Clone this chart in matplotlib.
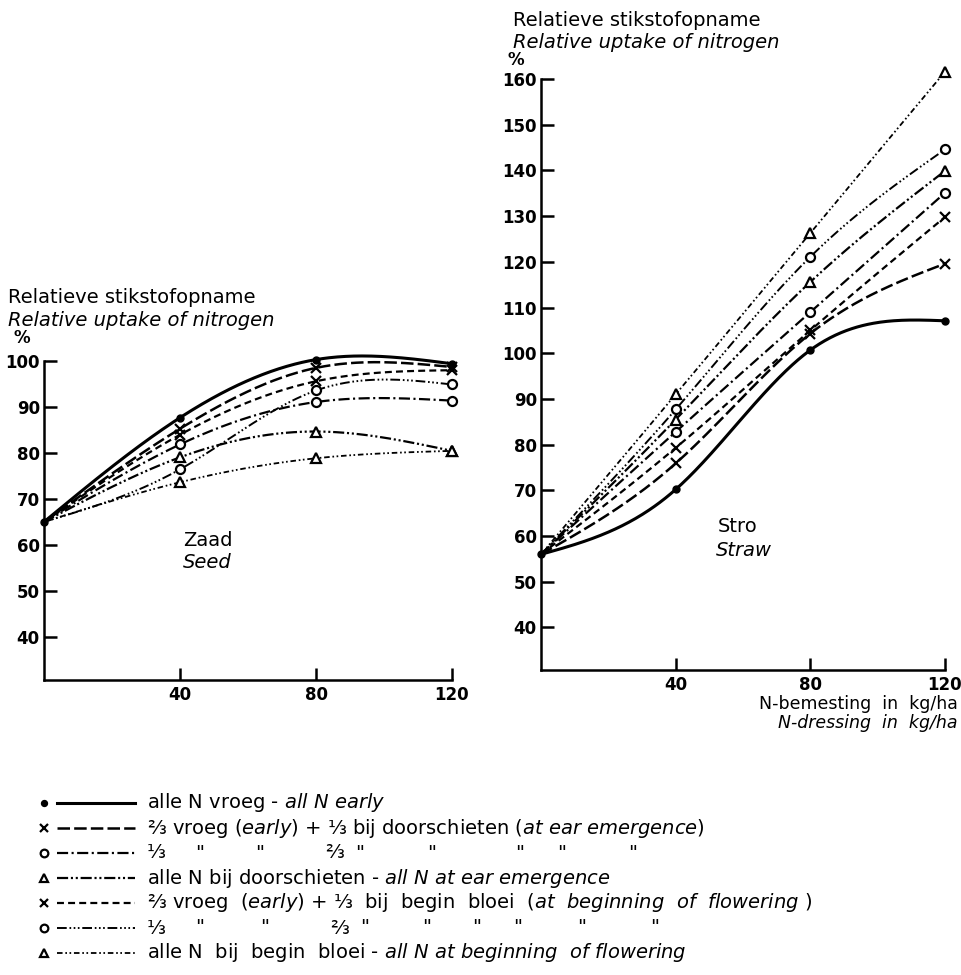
import numpy as np
import matplotlib
matplotlib.use("Agg")
import matplotlib.pyplot as plt
from matplotlib.lines import Line2D

plt.rcParams['font.family'] = ['DejaVu Sans']
plt.rcParams['mathtext.fontset'] = 'dejavusans'
plt.rcParams['lines.scale_dashes'] = False

# ---------------- data ----------------
dose = [0, 40, 80, 120]
x_ticks = [40, 80, 120]
seed_yticks = [40, 50, 60, 70, 80, 90, 100]
straw_yticks = [40, 50, 60, 70, 80, 90, 100, 110, 120, 130, 140, 150, 160]

# Seed (Zaad)
seed_all_early = [65, 87.6, 100.2, 99.3]
seed_23_ear = [65, 85.2, 98.4, 98.6]
seed_13_ear = [65, 81.8, 91.0, 91.3]
seed_all_ear = [65, 79.0, 84.6, 80.4]
seed_23_flow = [65, 83.9, 95.5, 97.9]
seed_13_flow = [65, 76.4, 93.5, 94.8]
seed_all_flow = [65, 73.6, 78.8, 80.4]

# Straw (Stro)
straw_all_early = [56, 70.2, 100.7, 107.1]
straw_23_ear = [56, 75.9, 104.3, 119.6]
straw_13_ear = [56, 82.8, 109.0, 135.1]
straw_all_ear = [56, 85.5, 115.6, 139.9]
straw_23_flow = [56, 79.3, 105.0, 129.8]
straw_13_flow = [56, 87.7, 121.1, 144.6]
straw_all_flow = [56, 91.0, 126.3, 161.6]

seed_series = [seed_all_early, seed_23_ear, seed_13_ear, seed_all_ear,
               seed_23_flow, seed_13_flow, seed_all_flow]
straw_series = [straw_all_early, straw_23_ear, straw_13_ear, straw_all_ear,
                straw_23_flow, straw_13_flow, straw_all_flow]

# ---------------- styles ----------------
styles = [
    dict(ls='-', lw=2.2, marker='o', ms=5, mfc='k', mew=1.0),
    dict(ls=(0, (9, 3)), lw=1.8, marker='x', ms=7, mfc='k', mew=1.6),
    dict(ls=(0, (8, 2.5, 1.5, 2.5)), lw=1.6, marker='o', ms=6.5, mfc='white', mew=1.6),
    dict(ls=(0, (8, 2, 1.5, 2, 1.5, 2)), lw=1.6, marker='^', ms=7.5, mfc='white', mew=1.6),
    dict(ls=(0, (5, 3)), lw=1.6, marker='x', ms=7, mfc='k', mew=1.6),
    dict(ls=(0, (7, 2, 1.2, 1.8, 1.2, 1.8, 1.2, 2)), lw=1.4, marker='o', ms=6.5, mfc='white', mew=1.6),
    dict(ls=(0, (4, 2, 1.2, 1.8, 1.2, 2)), lw=1.3, marker='^', ms=7.5, mfc='white', mew=1.6),
]


def natural_spline(x, y, n=300):
    x = np.asarray(x, float)
    y = np.asarray(y, float)
    k = len(x)
    h = np.diff(x)
    A = np.zeros((k, k))
    b = np.zeros(k)
    A[0, 0] = A[-1, -1] = 1
    for i in range(1, k - 1):
        A[i, i - 1] = h[i - 1]
        A[i, i] = 2 * (h[i - 1] + h[i])
        A[i, i + 1] = h[i]
        b[i] = 6 * ((y[i + 1] - y[i]) / h[i] - (y[i] - y[i - 1]) / h[i - 1])
    M = np.linalg.solve(A, b)
    xs = np.linspace(x[0], x[-1], n)
    idx = np.clip(np.searchsorted(x, xs) - 1, 0, k - 2)
    x0, x1 = x[idx], x[idx + 1]
    hh = x1 - x0
    t0 = x1 - xs
    t1 = xs - x0
    ys = (M[idx] * t0 ** 3 / (6 * hh) + M[idx + 1] * t1 ** 3 / (6 * hh)
          + (y[idx] / hh - M[idx] * hh / 6) * t0
          + (y[idx + 1] / hh - M[idx + 1] * hh / 6) * t1)
    return xs, ys


W, H = 962, 975
fig = plt.figure(figsize=(W / 100, H / 100), dpi=100)


def rect(l, r, t, b):
    return [l / W, 1 - b / H, (r - l) / W, (b - t) / H]


def style_axes(ax, ylo, yhi_spine, yticks):
    for s in ['top', 'right']:
        ax.spines[s].set_visible(False)
    ax.spines['left'].set_bounds(ylo, yhi_spine)
    ax.spines['left'].set_linewidth(1.8)
    ax.spines['bottom'].set_linewidth(1.8)
    ax.set_xticks(x_ticks)
    ax.set_yticks(yticks)
    ax.tick_params(direction='in', length=9, width=1.8, labelsize=12)
    ax.tick_params(axis='y', pad=3)
    ax.tick_params(axis='x', pad=4)
    for lab in ax.get_yticklabels() + ax.get_xticklabels():
        lab.set_fontweight('bold')


def draw_series(ax, series):
    for i, ys in enumerate(series):
        st = styles[i]
        xs_s, ys_s = natural_spline(dose, ys)
        ax.plot(xs_s, ys_s, color='k', ls=st['ls'], lw=st['lw'],
                clip_on=False, solid_capstyle='round')
        start = 0 if i == 0 else 1
        ax.plot(dose[start:], ys[start:], ls='none', marker=st['marker'],
                ms=st['ms'], mfc=st['mfc'], mec='k', mew=st['mew'],
                clip_on=False, zorder=5)


# Left: Seed
axL = fig.add_axes(rect(44, 452, 351.3, 680))
axL.set_xlim(0, 120)
axL.set_ylim(30.7, 102)
draw_series(axL, seed_series)
style_axes(axL, 30.7, 100, seed_yticks)

# Right: Straw
axR = fig.add_axes(rect(541, 945, 65.3, 670))
axR.set_xlim(0, 120)
axR.set_ylim(30.7, 163)
draw_series(axR, straw_series)
style_axes(axR, 30.7, 160, straw_yticks)


def ftext(x, y, s, **kw):
    kw.setdefault('fontsize', 14)
    kw.setdefault('va', 'center')
    fig.text(x / W, 1 - y / H, s, **kw)


# axis titles
ftext(8, 298, "Relatieve stikstofopname")
ftext(8, 320, "Relative uptake of nitrogen", style='italic')
ftext(13, 338, "%", fontsize=12, fontweight='bold')
ftext(513, 20, "Relatieve stikstofopname")
ftext(513, 42, "Relative uptake of nitrogen", style='italic')
ftext(508, 60, "%", fontsize=12, fontweight='bold')

ftext(183, 540, "Zaad")
ftext(183, 563, "Seed", style='italic')
ftext(718, 527, "Stro")
ftext(716, 551, "Straw", style='italic')

ftext(958, 704, "N-bemesting  in  kg/ha", ha='right', fontsize=12.5)
ftext(958, 723, "N-dressing  in  kg/ha", ha='right', style='italic', fontsize=12.5)


# ---------------- legend ----------------
def it(s):
    return r"$\mathit{" + s.replace(" ", r"\ ") + "}$"


rows_y = [803, 828, 853, 878, 903, 928, 953]
row_texts = [
    "alle N vroeg - " + it("all N early"),
    "⅔ vroeg " + it("(early)") + " + ⅓ bij doorschieten " + it("(at ear emergence)"),
    None,
    "alle N bij doorschieten - " + it("all N at ear emergence"),
    "⅔ vroeg  " + it("(early)") + " + ⅓  bij  begin  bloei  "
    + it("(at  beginning  of  flowering )"),
    None,
    "alle N  bij  begin  bloei - " + it("all N at beginning  of flowering"),
]
ditto3 = [(147, "⅓"), (195, '"'), (255, '"'), (325, "⅔"), (355, '"'),
          (427, '"'), (515, '"'), (557, '"'), (628, '"')]
ditto6 = [(147, "⅓"), (195, '"'), (260, '"'), (330, "⅔"), (360, '"'),
          (422, '"'), (472, '"'), (513, '"'), (577, '"'), (650, '"')]

for i, y in enumerate(rows_y):
    st = styles[i]
    yf = 1 - y / H
    fig.add_artist(Line2D([57 / W, 135 / W], [yf, yf], transform=fig.transFigure,
                          color='k', ls=st['ls'], lw=st['lw']))
    fig.add_artist(Line2D([44 / W], [yf], transform=fig.transFigure, ls='none',
                          marker=st['marker'], ms=st['ms'] * 0.85, mfc=st['mfc'],
                          mec='k', mew=st['mew']))
    if row_texts[i] is not None:
        ftext(147, y, row_texts[i])
    else:
        for xx, s in (ditto3 if i == 2 else ditto6):
            ftext(xx, y, s)

fig.savefig("out.png", dpi=100, facecolor='white')
